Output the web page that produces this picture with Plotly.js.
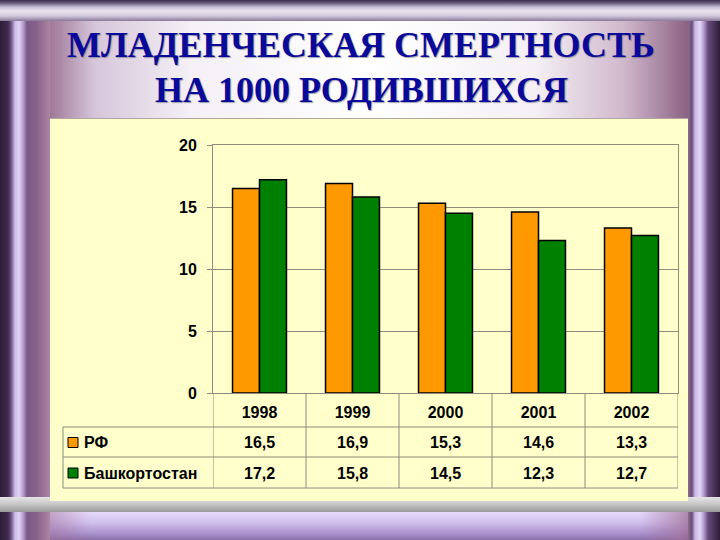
<!DOCTYPE html>
<html>
<head>
<meta charset="utf-8">
<script src="https://cdn.plot.ly/plotly-3.0.1.min.js"></script>
<style>
  html, body { margin:0; padding:0; }
  body { width:720px; height:540px; position:relative; overflow:hidden; background:#6a4a78; }
  .bg { position:absolute; }
  #bottomArea { left:0; top:512px; width:720px; height:28px;
    background: linear-gradient(to bottom, #e6dafa 0px, #d2c2ee 10px, #a890cc 22px, #8a70a8 28px); }
  #bottomEdge { left:0; top:512px; width:720px; height:28px;
    background: linear-gradient(to right, rgba(120,70,110,0.9) 0px, rgba(160,110,150,0.5) 50px, rgba(0,0,0,0) 90px, rgba(0,0,0,0) 640px, rgba(160,110,150,0.6) 680px, rgba(120,70,110,0.9) 720px); }
  #leftFrame { left:0; top:0; width:50px; height:540px;
    background: linear-gradient(to right, #2c1c38 0px, #3e2a4e 8px, #6a5080 11px, #cdbde8 15px, #e0d4f6 19px, #b8a0d0 23px, #7a5a88 27px, #86608a 36px, #9c7496 44px, #ab86a6 50px); }
  #rightFrame { left:688px; top:0; width:32px; height:540px;
    background: linear-gradient(to right, #8a6a90 0px, #6c4e78 4px, #c8b8e6 7px, #e4d8f8 12px, #b098c8 16px, #6a4a7e 20px, #4a3458 26px, #2c1c38 32px); }
  #topBar { left:0; top:0; width:720px; height:21px;
    background: linear-gradient(to bottom, #3a2a4a 0px, #6a5a7a 3px, #c4bcd6 7px, #ebe7f0 11px, #cfc7dc 16px, #8a7a98 21px); }
  #titleArea { left:50px; top:21px; width:638px; height:97px;
    background: linear-gradient(to right, #a07898 0%, #d6c6da 7%, #f4f0f6 22%, #ffffff 50%, #f4f0f6 76%, #d0b8cc 90%, #8c6282 100%); }
  #grayBar { left:0; top:497px; width:720px; height:15px;
    background: linear-gradient(to bottom, #e4e4e4 0px, #c8c8c8 7px, #9a9a9a 15px); }
  #panel { left:50px; top:118px; width:638px; height:383px; background:#FFFFCC; border-top:1px solid #b0a8a0; box-sizing:border-box; }
  #chart { position:absolute; left:0; top:0; width:720px; height:540px; }
</style>
</head>
<body>
<div class="bg" id="bottomArea"></div>
<div class="bg" id="bottomEdge"></div>
<div class="bg" id="leftFrame"></div>
<div class="bg" id="rightFrame"></div>
<div class="bg" id="topBar"></div>
<div class="bg" id="titleArea"></div>
<div class="bg" id="grayBar"></div>
<div class="bg" id="panel"></div>
<div id="chart"></div>
<script>
// ---- data ----
const years = [1998, 1999, 2000, 2001, 2002];
const yearLabels = ['1998', '1999', '2000', '2001', '2002'];
const seriesNames = ['РФ', 'Башкортостан'];
const rfValues = [16.5, 16.9, 15.3, 14.6, 13.3];
const bashValues = [17.2, 15.8, 14.5, 12.3, 12.7];
const yTickValues = [0, 5, 10, 15, 20];
const titleLines = ['МЛАДЕНЧЕСКАЯ СМЕРТНОСТЬ', 'НА 1000 РОДИВШИХСЯ'];
const seriesColors = ['#FF9900', '#008000'];

// ---- geometry (pixels) ----
const L = 213, R = 678, T = 145, B = 393;
const W = R - L, H = B - T;
const fx = px => (px - L) / W;
const fy = py => (B - py) / H;
const tableLeft = 63;
const rowLines = [427, 457, 488];
const rowCenters = [442.5, 473];
const titleCenters = [45, 90];

const gridCol = '#8c8c80';
const boldFont = {family: 'Liberation Sans, Arial, sans-serif', size: 16, color: '#000', weight: 700};
const titleFont = {family: 'Liberation Serif, Times New Roman, serif', size: 36, color: '#0a0a9a', weight: 700,
  shadow: '1px 1px 1px rgba(90,90,110,0.55)'};

const seriesValues = [rfValues, bashValues];

const traces = seriesNames.map((name, i) => ({
  type: 'bar',
  name: name,
  x: years,
  y: seriesValues[i],
  marker: {color: seriesColors[i], line: {color: '#000', width: 1.5}},
  hoverinfo: 'x+y+name'
}));

const shapes = [];
const annotations = [];

// table vertical lines at category boundaries
const bounds = years.map(y => y - 0.5).concat([years[years.length - 1] + 0.5]);
bounds.forEach(bx => {
  shapes.push({type: 'line', xref: 'x', yref: 'paper', x0: bx, x1: bx,
    y0: 0, y1: fy(rowLines[2]), line: {color: gridCol, width: 1}});
});
// horizontal lines
rowLines.forEach(py => {
  shapes.push({type: 'line', xref: 'paper', yref: 'paper', x0: fx(tableLeft), x1: 1,
    y0: fy(py), y1: fy(py), line: {color: gridCol, width: 1}});
});
// left edge of table
shapes.push({type: 'line', xref: 'paper', yref: 'paper', x0: fx(tableLeft), x1: fx(tableLeft),
  y0: fy(rowLines[0]), y1: fy(rowLines[2]), line: {color: gridCol, width: 1}});

// legend keys + names and values
seriesNames.forEach((name, s) => {
  const cy = rowCenters[s];
  shapes.push({type: 'rect', xref: 'paper', yref: 'paper',
    x0: fx(68), x1: fx(78), y0: fy(cy - 5), y1: fy(cy + 5),
    fillcolor: seriesColors[s], line: {color: '#000', width: 1}});
  annotations.push({xref: 'paper', yref: 'paper', x: fx(82), y: fy(cy),
    xanchor: 'left', yanchor: 'middle', showarrow: false, text: name, font: boldFont});
  years.forEach((yr, j) => {
    annotations.push({xref: 'x', yref: 'paper', x: yr, y: fy(cy),
      xanchor: 'center', yanchor: 'middle', showarrow: false,
      text: seriesValues[s][j].toFixed(1).replace('.', ','), font: boldFont});
  });
});

// title lines
titleLines.forEach((t, i) => {
  annotations.push({xref: 'paper', yref: 'paper', x: fx(361), y: fy(titleCenters[i]),
    xanchor: 'center', yanchor: 'middle', showarrow: false, text: t, font: titleFont});
});

const layout = {
  width: 720, height: 540,
  margin: {l: L, r: 720 - R, t: T, b: 540 - B},
  paper_bgcolor: 'rgba(0,0,0,0)',
  plot_bgcolor: 'rgba(0,0,0,0)',
  showlegend: false,
  barmode: 'group',
  bargap: 0.42,
  bargroupgap: 0,
  xaxis: {
    type: 'linear', range: [years[0] - 0.5, years[years.length - 1] + 0.5],
    tickvals: years, ticktext: yearLabels,
    showline: true, linecolor: gridCol, linewidth: 1, mirror: true,
    showgrid: false, zeroline: false, ticks: '', ticklabelstandoff: 5,
    tickfont: boldFont, fixedrange: true
  },
  yaxis: {
    range: [0, 20], tickvals: yTickValues,
    showline: true, linecolor: gridCol, linewidth: 1, mirror: true,
    showgrid: true, gridcolor: gridCol, gridwidth: 1,
    ticks: 'outside', ticklen: 5, tickcolor: gridCol,
    ticklabelstandoff: 7,
    tickfont: boldFont, zeroline: false, fixedrange: true
  },
  shapes: shapes,
  annotations: annotations
};

Plotly.newPlot('chart', traces, layout, {displayModeBar: false, staticPlot: true});
</script>
</body>
</html>
